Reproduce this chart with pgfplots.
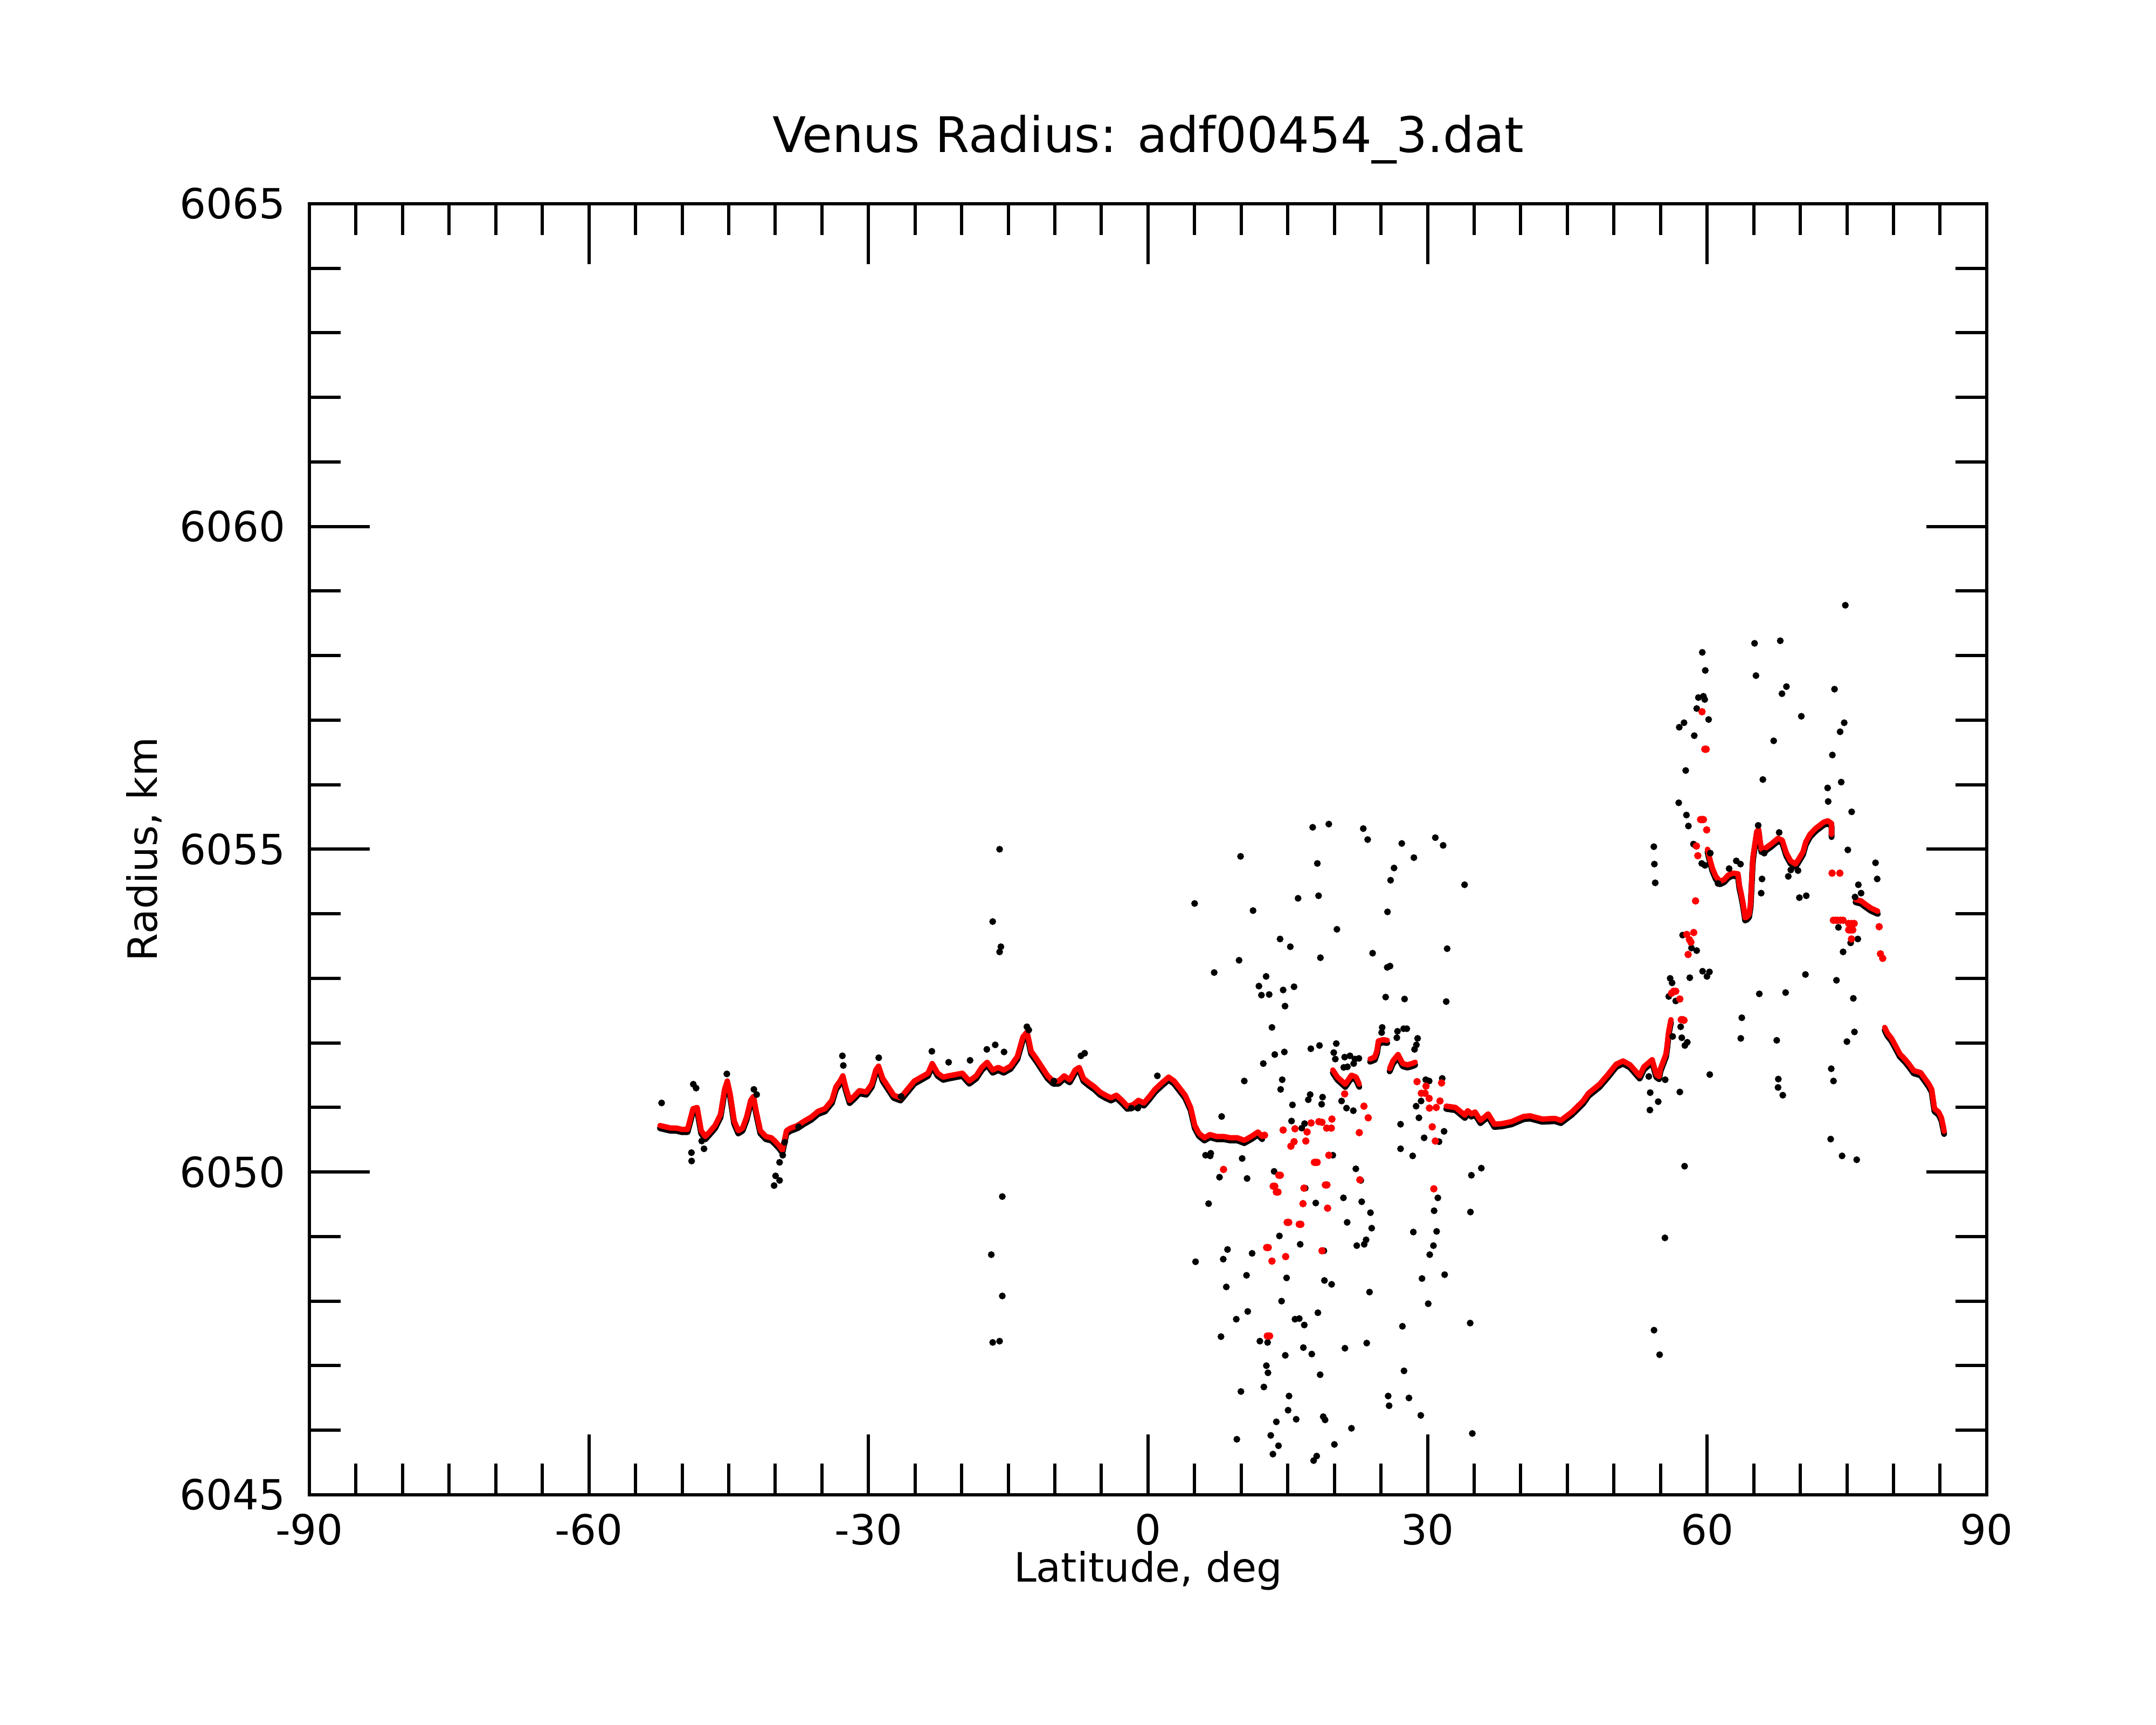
\documentclass[border=0pt]{standalone}
\usepackage{fontspec}
\setmainfont{DejaVu Sans}
\usepackage{pgfplots}
\usepackage{pgfplotstable}
\pgfplotsset{compat=1.18}

\pgfplotstableread{
x y
-52.38 6050.72
-51.79 6050.70
-51.19 6050.68
-50.60 6050.68
-50.02 6050.66
-49.42 6050.66
-48.83 6050.98
-48.39 6051.00
-47.95 6050.64
-47.51 6050.55
-47.06 6050.62
-46.47 6050.72
-45.88 6050.89
-45.44 6051.28
-45.15 6051.41
-44.85 6051.21
-44.41 6050.79
-43.97 6050.64
-43.52 6050.68
-43.08 6050.85
-42.64 6051.11
-42.34 6051.17
-42.05 6050.94
-41.60 6050.64
-41.01 6050.55
-40.42 6050.53
-39.98 6050.47
-39.54 6050.40
-39.24 6050.34
-38.80 6050.64
-38.36 6050.68
-37.62 6050.72
-36.88 6050.79
-36.15 6050.85
-35.41 6050.94
-34.67 6050.98
-33.93 6051.11
-33.49 6051.32
-33.05 6051.41
-32.75 6051.49
-32.46 6051.32
-32.02 6051.11
-31.57 6051.17
-30.98 6051.26
-30.24 6051.24
-29.65 6051.36
-29.21 6051.58
-28.92 6051.64
-28.47 6051.45
-27.88 6051.32
-27.29 6051.19
-26.56 6051.15
-25.82 6051.28
-25.08 6051.41
-24.34 6051.47
-23.61 6051.53
-23.16 6051.68
-22.57 6051.53
-21.98 6051.47
-21.39 6051.49
-20.66 6051.51
-19.92 6051.53
-19.18 6051.41
-18.44 6051.49
-17.85 6051.62
-17.26 6051.70
-16.67 6051.58
-16.08 6051.62
-15.49 6051.58
-14.75 6051.64
-14.02 6051.79
-13.43 6052.09
-12.98 6052.17
-12.54 6051.87
-11.95 6051.75
-11.36 6051.62
-10.77 6051.49
-10.18 6051.41
-9.59 6051.41
-9.00 6051.49
-8.41 6051.43
-7.82 6051.58
-7.38 6051.62
-6.93 6051.45
-6.34 6051.38
-5.75 6051.32
-5.16 6051.24
-4.57 6051.19
-3.98 6051.15
-3.39 6051.19
-2.80 6051.11
-2.21 6051.02
-1.62 6051.04
-1.03 6051.11
-0.44 6051.07
0.15 6051.17
0.74 6051.28
1.48 6051.38
2.21 6051.47
2.80 6051.41
3.39 6051.30
3.98 6051.19
4.57 6051.00
5.02 6050.72
5.46 6050.60
6.05 6050.53
6.64 6050.58
7.38 6050.55
8.11 6050.55
8.85 6050.53
9.59 6050.53
10.33 6050.49
11.07 6050.55
11.80 6050.62
12.25 6050.55
}\segA

\pgfplotstableread{
x y
19.83 6051.58
20.33 6051.47
21.17 6051.36
21.83 6051.50
22.33 6051.47
22.67 6051.36
}\segB

\pgfplotstableread{
x y
23.83 6051.75
24.33 6051.78
24.57 6051.88
24.73 6052.03
25.23 6052.05
25.67 6052.04
}\segC

\pgfplotstableread{
x y
25.93 6051.60
26.27 6051.72
26.83 6051.82
27.33 6051.68
27.83 6051.66
28.33 6051.68
28.67 6051.70
}\segD

\pgfplotstableread{
x y
32.00 6051.02
33.00 6051.00
34.00 6050.88
34.30 6050.95
34.70 6050.90
35.10 6050.93
35.67 6050.80
36.10 6050.85
36.50 6050.90
37.17 6050.74
38.00 6050.75
39.00 6050.78
40.30 6050.86
41.00 6050.87
42.30 6050.82
43.67 6050.83
44.30 6050.80
45.49 6050.93
46.68 6051.10
47.27 6051.22
48.46 6051.36
49.35 6051.51
50.24 6051.67
50.98 6051.72
51.73 6051.66
52.76 6051.49
53.21 6051.63
54.10 6051.74
54.55 6051.51
54.84 6051.48
54.99 6051.60
55.59 6051.83
55.73 6051.98
55.88 6052.18
56.12 6052.36
}\segE

\pgfplotstableread{
x y
60.04 6055.00
60.34 6054.82
60.58 6054.70
60.93 6054.58
61.38 6054.50
61.82 6054.53
62.27 6054.60
62.71 6054.63
63.31 6054.62
63.46 6054.44
63.66 6054.31
63.84 6054.17
63.96 6054.06
64.08 6053.94
64.26 6053.95
64.50 6053.99
64.67 6054.16
64.79 6054.51
64.88 6054.79
64.94 6054.90
65.33 6055.28
65.54 6055.30
65.68 6055.13
65.83 6055.00
66.28 6055.02
66.87 6055.08
67.61 6055.17
68.06 6055.14
68.50 6054.94
68.95 6054.82
69.49 6054.77
69.84 6054.85
70.29 6054.96
70.58 6055.11
71.03 6055.23
71.62 6055.32
72.07 6055.37
72.52 6055.42
72.96 6055.44
73.35 6055.40
73.35 6055.23
}\segF

\pgfplotstableread{
x y
75.93 6054.22
76.52 6054.20
76.97 6054.15
77.56 6054.09
78.31 6054.04
}\segG

\pgfplotstableread{
x y
79.05 6052.24
79.35 6052.15
79.79 6052.07
80.24 6051.95
80.68 6051.83
81.28 6051.74
81.72 6051.66
82.17 6051.57
82.91 6051.54
83.36 6051.45
83.80 6051.36
84.10 6051.28
84.25 6051.13
84.40 6050.98
84.84 6050.93
85.14 6050.84
85.35 6050.70
85.43 6050.63
}\segH

\pgfplotstableread{
x y
12.50 6050.57
14.50 6050.65
15.77 6050.67
15.33 6050.40
15.67 6050.47
16.93 6050.48
17.07 6050.62
17.50 6050.76
18.33 6050.78
18.67 6050.77
19.17 6050.68
19.67 6050.68
19.73 6050.82
19.40 6050.26
18.00 6050.15
18.15 6050.15
17.85 6050.15
14.03 6049.95
14.20 6049.95
13.43 6049.78
13.60 6049.78
13.77 6049.69
13.95 6049.69
16.73 6049.75
19.03 6049.80
19.20 6049.80
16.63 6049.51
19.27 6049.44
14.93 6049.22
15.10 6049.22
16.23 6049.19
16.40 6049.19
12.73 6048.83
12.90 6048.83
13.30 6048.62
14.77 6048.69
18.67 6048.78
12.80 6047.46
13.05 6047.46
8.10 6050.04
22.67 6050.61
22.73 6049.88
23.17 6051.02
23.63 6050.84
21.10 6051.21
28.87 6051.40
29.33 6051.22
29.73 6051.22
29.83 6051.33
30.17 6051.14
30.20 6050.99
30.93 6051.00
31.33 6051.10
31.50 6051.38
30.50 6050.70
30.83 6050.48
30.67 6049.74
56.18 6052.77
56.40 6052.80
56.63 6052.80
57.07 6052.68
57.22 6052.36
57.40 6052.36
57.52 6052.35
57.81 6053.68
57.96 6053.37
58.10 6053.60
58.26 6053.56
58.56 6053.71
58.76 6054.20
58.85 6055.05
59.00 6054.90
59.30 6055.46
59.45 6055.46
59.60 6055.46
59.45 6057.13
59.75 6056.55
59.90 6056.55
59.95 6055.30
73.41 6054.63
74.24 6054.63
73.55 6053.90
73.80 6053.90
74.00 6053.90
74.30 6053.90
74.59 6053.90
75.19 6053.85
75.50 6053.85
75.78 6053.85
75.19 6053.75
75.40 6053.75
75.63 6053.75
75.49 6053.61
78.46 6053.80
78.60 6053.38
78.84 6053.31
}\redpts

\pgfplotstableread{
x y
-52.20 6051.07
-49.00 6050.30
-48.98 6050.17
-47.90 6050.48
-47.65 6050.36
-48.80 6051.36
-48.50 6051.30
-45.20 6051.52
-42.30 6051.28
-42.00 6051.20
-39.97 6049.94
-40.13 6049.79
-39.54 6049.87
-39.20 6050.26
-39.54 6050.15
-39.00 6050.46
-37.50 6050.70
-32.80 6051.80
-32.70 6051.65
-28.90 6051.77
-26.50 6051.17
-23.20 6051.87
-21.40 6051.70
-19.10 6051.73
-17.30 6051.90
-16.40 6051.97
-15.45 6051.86
-13.00 6052.25
-12.80 6052.20
-10.10 6051.41
-7.20 6051.80
-6.80 6051.84
-1.80 6050.99
-1.10 6050.99
1.00 6051.49
-16.67 6053.88
-15.93 6055.00
-15.79 6053.49
-15.93 6053.41
-16.82 6048.72
-15.64 6049.62
-15.64 6048.08
-16.67 6047.36
-15.93 6047.38
17.67 6055.34
19.40 6055.39
23.10 6055.32
23.57 6055.15
30.83 6055.18
31.67 6055.06
27.23 6055.09
28.53 6054.87
9.93 6054.89
5.00 6054.16
18.17 6054.78
16.10 6054.24
18.30 6054.28
11.27 6054.05
26.40 6054.71
26.03 6054.52
25.70 6054.03
33.97 6054.45
20.27 6053.76
14.17 6053.61
15.27 6053.49
18.50 6053.32
24.10 6053.39
32.10 6053.46
9.77 6053.28
7.10 6053.09
25.67 6053.17
25.97 6053.19
12.67 6053.03
11.90 6052.88
12.17 6052.74
13.00 6052.75
14.50 6052.82
15.67 6052.87
14.70 6052.57
25.50 6052.71
27.53 6052.68
32.00 6052.64
13.30 6052.24
25.13 6052.24
25.07 6052.16
26.77 6052.18
27.43 6052.22
27.77 6052.22
26.70 6052.08
28.93 6052.07
28.80 6051.97
28.60 6051.90
17.47 6051.91
18.40 6051.96
20.20 6051.99
19.93 6051.85
20.10 6051.75
21.10 6051.78
21.67 6051.80
22.20 6051.75
22.63 6051.76
22.07 6051.68
21.40 6051.63
21.00 6051.62
14.63 6051.86
13.60 6051.82
12.37 6051.68
10.33 6051.41
14.40 6051.43
14.23 6051.28
17.20 6051.12
17.40 6051.20
18.73 6051.16
18.63 6051.05
15.50 6051.04
20.77 6051.10
21.30 6050.99
22.03 6050.95
29.80 6051.43
30.17 6051.41
31.57 6051.45
29.30 6051.10
28.77 6051.02
29.07 6050.84
27.10 6050.74
27.10 6050.36
28.40 6050.25
29.63 6050.53
31.23 6050.47
31.77 6050.63
15.40 6050.79
16.50 6050.68
16.80 6050.75
6.17 6050.26
6.67 6050.25
6.73 6050.29
10.10 6050.21
7.90 6050.86
19.83 6050.26
7.67 6049.92
10.63 6049.90
13.53 6050.01
6.50 6049.51
22.30 6050.05
22.83 6049.87
20.97 6049.60
22.93 6049.54
23.87 6049.37
24.00 6049.13
21.37 6049.22
18.00 6049.52
16.87 6049.75
14.10 6049.01
16.33 6048.88
22.40 6048.86
23.20 6048.88
23.40 6048.95
28.47 6049.07
31.10 6049.60
30.70 6049.40
30.97 6049.08
30.63 6048.86
30.23 6048.72
34.70 6049.95
35.77 6050.06
34.60 6049.38
5.10 6048.61
8.53 6048.80
8.07 6048.65
11.17 6048.74
18.87 6048.78
10.57 6048.40
14.87 6048.36
8.40 6048.22
14.33 6048.00
18.93 6048.32
19.70 6048.26
23.77 6048.14
29.40 6048.35
30.07 6047.96
31.83 6048.41
10.70 6047.84
9.47 6047.72
15.77 6047.72
16.23 6047.73
16.77 6047.63
18.23 6047.82
7.83 6047.45
12.00 6047.38
12.83 6047.36
16.67 6047.28
17.57 6047.18
21.13 6047.27
23.47 6047.35
27.30 6047.61
34.57 6047.66
14.73 6047.16
18.47 6046.86
12.70 6047.00
12.87 6046.89
27.47 6046.92
12.43 6046.67
9.97 6046.60
15.13 6046.53
15.03 6046.31
15.90 6046.17
18.80 6046.21
19.00 6046.16
25.77 6046.53
25.87 6046.38
28.00 6046.50
13.77 6046.13
29.27 6046.23
21.83 6046.03
34.80 6045.95
9.53 6045.86
13.17 6045.92
14.00 6045.76
20.00 6045.78
13.40 6045.63
17.77 6045.53
18.10 6045.60
74.83 6058.78
65.09 6058.19
67.85 6058.23
59.48 6058.05
59.80 6057.77
65.24 6057.69
68.03 6057.41
68.51 6057.52
59.06 6057.35
59.60 6057.37
59.74 6057.32
58.88 6057.18
60.16 6057.01
57.01 6056.89
57.52 6056.96
58.62 6056.76
70.11 6057.06
73.67 6057.48
74.27 6056.82
74.71 6056.96
73.44 6056.46
67.14 6056.68
57.70 6056.22
65.98 6056.08
74.39 6056.04
72.93 6055.95
72.99 6055.74
56.95 6055.72
57.78 6055.53
57.99 6055.36
75.51 6055.58
54.28 6055.04
54.34 6054.77
54.43 6054.48
58.53 6055.08
58.73 6055.06
59.42 6054.78
59.77 6054.75
60.34 6054.94
62.36 6054.70
63.13 6054.82
63.58 6054.77
61.17 6054.47
65.48 6055.37
66.13 6054.94
65.89 6054.54
65.80 6054.32
67.73 6055.26
68.71 6054.58
68.98 6054.68
69.75 6054.67
69.90 6054.25
70.64 6054.28
75.10 6054.99
76.23 6054.45
76.52 6054.32
78.07 6054.79
78.25 6054.54
75.87 6054.26
74.09 6053.79
74.59 6053.41
75.40 6053.55
76.17 6053.61
73.88 6052.97
70.55 6053.06
57.37 6053.67
58.32 6053.47
58.88 6053.43
58.14 6053.01
59.51 6053.11
59.98 6053.03
60.25 6053.10
56.03 6053.00
56.24 6052.93
55.88 6052.72
56.63 6052.65
65.60 6052.76
68.42 6052.78
63.72 6052.39
63.61 6052.07
57.16 6052.25
57.28 6052.08
57.87 6052.01
57.61 6051.96
56.30 6052.10
67.47 6052.04
75.00 6052.02
75.81 6052.17
75.69 6052.69
73.32 6051.60
73.56 6051.41
67.64 6051.44
67.61 6051.31
68.12 6051.19
60.28 6051.51
57.07 6051.24
53.74 6051.48
53.89 6051.23
53.86 6050.96
54.75 6051.09
55.50 6051.43
73.26 6050.51
74.48 6050.25
76.05 6050.19
57.58 6050.09
54.30 6047.55
54.90 6047.17
55.47 6048.98
}\blackpts

\pgfplotsset{
  shadow/.style={black, line width=1.1pt, line join=round, line cap=round, yshift=-0.5pt},
  redline/.style={red, line width=1.0pt, line join=round, line cap=round},
}

\begin{document}
\begin{tikzpicture}
\path[use as bounding box] (-57.4pt,-42.7pt) rectangle (342.6pt,277.3pt);
\begin{axis}[
  at={(0pt,0pt)}, anchor=south west,
  scale only axis, width=311.2pt, height=239.5pt,
  xmin=-90, xmax=90, ymin=6045, ymax=6065,
  xtick={-90,-60,-30,0,30,60,90},
  xticklabels={-90,-60,-30,0,30,60,90},
  ytick={6045,6050,6055,6060,6065},
  yticklabels={6045,6050,6055,6060,6065},
  minor x tick num=5, minor y tick num=4,
  tick align=inside, tick pos=both,
  major tick length=11.2pt, minor tick length=5.8pt,
  every tick/.style={black, line width=0.6pt},
  axis line style={line width=0.6pt},
  ticklabel style={font=\fontsize{7.7}{9}\selectfont},
  yticklabel style={xshift=-0.9pt},
  title={Venus Radius: adf00454\_3.dat},
  title style={at={(axis description cs:0.5,1.0150)}, anchor=base, font=\fontsize{9.1}{11}\selectfont},
  xlabel={Latitude, deg},
  xlabel style={at={(axis description cs:0.5,-0.0676)}, anchor=base, font=\fontsize{7.5}{9}\selectfont},
  ylabel={Radius, km},
  ylabel style={at={(axis description cs:-0.0909,0.5)}, anchor=base, font=\fontsize{7.5}{9}\selectfont},
]
\addplot[shadow] table {\segA};
\addplot[shadow] table {\segB};
\addplot[shadow] table {\segC};
\addplot[shadow] table {\segD};
\addplot[shadow] table {\segE};
\addplot[shadow] table {\segF};
\addplot[shadow] table {\segG};
\addplot[shadow] table {\segH};
\addplot[only marks, mark=*, mark size=0.42pt, black] table {\blackpts};
\addplot[redline] table {\segA};
\addplot[redline] table {\segB};
\addplot[redline] table {\segC};
\addplot[redline] table {\segD};
\addplot[redline] table {\segE};
\addplot[redline] table {\segF};
\addplot[redline] table {\segG};
\addplot[redline] table {\segH};
\addplot[only marks, mark=*, mark size=0.48pt, red] table {\redpts};
\end{axis}
\end{tikzpicture}
\end{document}
